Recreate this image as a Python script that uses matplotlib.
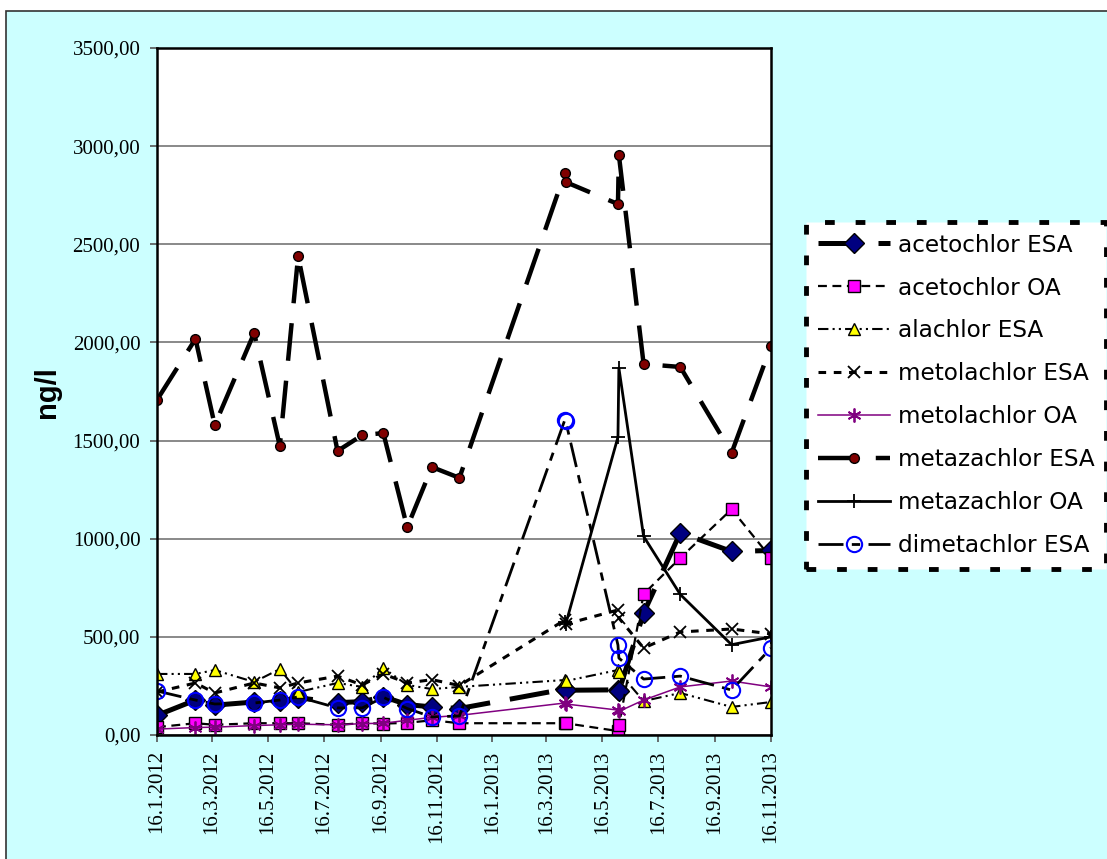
import matplotlib
matplotlib.use("Agg")
import matplotlib.pyplot as plt
import matplotlib.dates as mdates
from matplotlib.patches import Rectangle
from datetime import date
import numpy as np

# sampling dates (two samples close together in April and June 2013)
dates = [
    date(2012, 1, 16), date(2012, 2, 27), date(2012, 3, 19), date(2012, 5, 1),
    date(2012, 5, 29), date(2012, 6, 18), date(2012, 7, 31), date(2012, 8, 27),
    date(2012, 9, 19), date(2012, 10, 15), date(2012, 11, 11), date(2012, 12, 11),
    date(2013, 4, 5), date(2013, 4, 6), date(2013, 6, 2), date(2013, 6, 3),
    date(2013, 6, 30), date(2013, 8, 9), date(2013, 10, 4), date(2013, 11, 16),
]

acetochlor_esa = [100, 178, 152, 168, 172, 190, 165, 170, 195, 155, 143, 135,
                  234, 228, 230, 222, 621, 1030, 935, 940]
acetochlor_oa = [40, 60, 52, 60, 60, 60, 52, 60, 58, 62, 75, 60,
                 60, 60, 20, 50, 718, 902, 1150, 902]
alachlor_esa = [311, 311, 331, 270, 336, 219, 265, 245, 341, 255, 234, 245,
                280, 275, 331, 320, 173, 214, 143, 168]
metolachlor_esa = [219, 265, 214, 265, 240, 265, 300, 255, 311, 265, 282, 252,
                   586, 565, 637, 596, 443, 525, 540, 515]
metolachlor_oa = [30, 38, 40, 48, 52, 55, 52, 58, 60, 75, 90, 100,
                  163, 158, 127, 120, 178, 245, 275, 245]
metazachlor_esa = [1707, 2018, 1579, 2048, 1472, 2440, 1447, 1528, 1538, 1058, 1365, 1310,
                   2863, 2817, 2705, 2955, 1890, 1875, 1437, 1982]
metazachlor_oa = [np.nan, np.nan, np.nan, np.nan, np.nan, np.nan,
                  np.nan, np.nan, np.nan, np.nan, np.nan, np.nan,
                  575, 565, 1518, 1870, 1012, 716, 460, 500]
dimetachlor_esa = [224, 178, 158, 163, 178, 194, 138, 138, 192, 135, 92, 97,
                   1605, 1598, 458, 392, 285, 300, 229, 443]

W, H = 1107, 859
fig = plt.figure(figsize=(W / 100, H / 100), dpi=100, facecolor="white")

# cyan chart area with thin border (cut off on right and bottom)
fig.add_artist(Rectangle((6 / W, -0.02), 1.05, 1 - 11 / H + 0.02,
                         transform=fig.transFigure, facecolor="#CCFFFF",
                         edgecolor="#333333", linewidth=1.2, zorder=-10))

ax = fig.add_axes([157 / W, 1 - 735 / H, (771 - 157) / W, (735 - 48) / H])
ax.set_facecolor("white")

x = mdates.date2num(dates)

ax.plot(x, acetochlor_esa, color="black", lw=3.6, linestyle=(0, (8, 4)),
        marker="D", ms=10, mfc="#000080", mec="black", mew=1, label="acetochlor ESA")
ax.plot(x, acetochlor_oa, color="black", lw=1.6, linestyle=(0, (4, 2.5)),
        marker="s", ms=9, mfc="#FF00FF", mec="black", mew=1, label="acetochlor OA")
ax.plot(x, alachlor_esa, color="black", lw=1.5, linestyle=(0, (5, 2, 1, 2, 1, 2)),
        marker="^", ms=8, mfc="#FFFF00", mec="black", mew=1, label="alachlor ESA")
ax.plot(x, metolachlor_esa, color="black", lw=2.2, linestyle=(0, (2.5, 2.5)),
        marker="x", ms=9, mec="black", mew=1.3, label="metolachlor ESA")
ax.plot(x, metolachlor_oa, color="#800080", lw=1.1, linestyle="-",
        marker=(6, 2, 0), ms=10, mec="#800080", mew=1.3, label="metolachlor OA")
ax.plot(x, metazachlor_esa, color="black", lw=3.2, linestyle=(0, (8.5, 4.5)),
        marker="o", ms=7, mfc="#800000", mec="black", mew=1, label="metazachlor ESA")
ax.plot(x, metazachlor_oa, color="black", lw=2, linestyle="-",
        marker="+", ms=10, mec="black", mew=1.3, label="metazachlor OA")
ax.plot(x, dimetachlor_esa, color="black", lw=2, linestyle=(0, (9, 3, 3, 3)),
        marker="o", ms=11, mfc="none", mec="#0000FF", mew=1.5, label="dimetachlor ESA")

ax.set_xlim(mdates.date2num(date(2012, 1, 16)), mdates.date2num(date(2013, 11, 16)))
ax.set_ylim(0, 3500)
ax.set_yticks(np.arange(0, 3501, 500))
ax.yaxis.set_major_formatter(plt.FuncFormatter(lambda v, p: f"{v:.2f}".replace(".", ",")))
ax.xaxis.set_major_locator(mdates.MonthLocator(bymonth=[1, 3, 5, 7, 9, 11], bymonthday=16))
ax.xaxis.set_major_formatter(plt.FuncFormatter(
    lambda v, p: "{0.day}.{0.month}.{0.year}".format(mdates.num2date(v))))

ax.grid(axis="y", color="#808080", lw=1.3)
ax.set_axisbelow(True)
for s in ax.spines.values():
    s.set_color("black")
    s.set_linewidth(1.8)

for lab in ax.get_xticklabels() + ax.get_yticklabels():
    lab.set_fontfamily("Liberation Serif")
    lab.set_fontsize(15)
ax.tick_params(axis="y", direction="out", length=5, width=1.2, color="#555555", pad=7)
ax.tick_params(axis="x", direction="out", length=5, width=1.2, color="#555555", pad=6,
               labelrotation=90)

fig.text(47 / W, 1 - 392 / H, "ng/l", rotation=90, ha="center", va="center",
         fontsize=21, fontweight="bold", family="Liberation Sans")

leg = ax.legend(loc="upper left", bbox_to_anchor=(806 / W, 1 - 222 / H),
                bbox_transform=fig.transFigure, borderaxespad=0,
                prop={"family": "DejaVu Sans", "size": 16.7}, numpoints=1,
                handlelength=3.1, handletextpad=0.35, labelspacing=0.86,
                borderpad=0.5, fancybox=False, framealpha=1)
frame = leg.get_frame()
frame.set_facecolor("white")
frame.set_edgecolor("black")
frame.set_linewidth(3.5)
frame.set_linestyle((0, (2.0, 4.3)))

fig.savefig("out.png", dpi=100)
